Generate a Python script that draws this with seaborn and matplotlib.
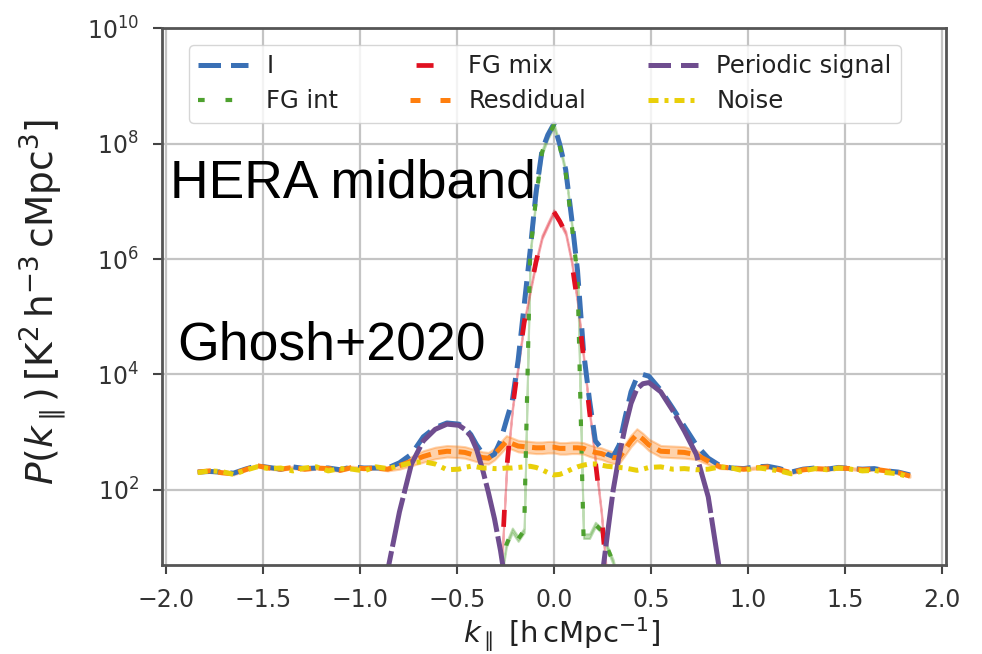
import numpy as np
import matplotlib
matplotlib.use("Agg")
import matplotlib.pyplot as plt
import seaborn as sns

# k_parallel grid [h cMpc^-1]: coarse outer bins, finer bins around the foreground wedge
k_par = [-1.836, -1.775, -1.714, -1.652, -1.591, -1.530, -1.469, -1.408, -1.346, -1.285, -1.224,
         -1.163, -1.102, -1.040, -0.979, -0.918, -0.857, -0.796, -0.734, -0.673, -0.612, -0.551,
         -0.490, -0.459, -0.428, -0.398, -0.367, -0.337, -0.306, -0.275, -0.245, -0.214, -0.184,
         -0.153, -0.122, -0.092, -0.061, -0.031, 0.000, 0.031, 0.061, 0.092, 0.122, 0.153, 0.184,
         0.214, 0.245, 0.275, 0.306, 0.337, 0.367, 0.398, 0.428, 0.459, 0.490,
         0.551, 0.612, 0.673, 0.734, 0.796, 0.857, 0.918, 0.979, 1.040, 1.102, 1.163, 1.224,
         1.285, 1.346, 1.408, 1.469, 1.530, 1.591, 1.652, 1.714, 1.775, 1.836]

# log10 P(k) [K^2 h^-3 cMpc^3] for each component
log_total = [2.31, 2.32, 2.31, 2.29, 2.36, 2.42, 2.39, 2.36, 2.40, 2.37, 2.38,
             2.38, 2.35, 2.40, 2.38, 2.38, 2.38, 2.47, 2.62, 2.92, 3.08, 3.16,
             3.14, 3.08, 2.96, 2.78, 2.63, 2.56, 2.62, 2.85, 3.20, 3.55, 4.25,
             5.20, 6.15, 7.15, 7.88, 8.15, 8.34, 7.98, 7.55, 6.70, 5.80, 4.40, 3.55,
             2.85, 2.72, 2.62, 2.58, 2.78, 3.25, 3.70, 3.95, 4.00, 3.97,
             3.73, 3.42, 3.10, 2.78, 2.55, 2.42, 2.38, 2.37, 2.40, 2.41, 2.37, 2.31,
             2.36, 2.38, 2.36, 2.39, 2.37, 2.36, 2.37, 2.33, 2.31, 2.26]

log_fg_int = [-2.0, -2.0, -2.0, -2.0, -2.0, -2.0, -2.0, -2.0, -2.0, -2.0, -2.0,
              -2.0, -2.0, -2.0, -2.0, -2.0, -2.0, -2.0, -2.0, -2.0, -2.0, -2.0,
              -2.0, -2.0, -2.0, -2.0, -2.0, -2.0, -1.0, 0.40, 1.05, 1.30, 1.15,
              1.30, 6.10, 7.05, 7.85, 8.12, 8.32, 7.95, 7.50, 6.60, 5.70, 1.20, 1.20,
              1.40, 1.30, 1.00, 0.75, 0.30, -1.0, -2.0, -2.0, -2.0, -2.0,
              -2.0, -2.0, -2.0, -2.0, -2.0, -2.0, -2.0, -2.0, -2.0, -2.0, -2.0, -2.0,
              -2.0, -2.0, -2.0, -2.0, -2.0, -2.0, -2.0, -2.0, -2.0, -2.0]

log_fg_mix = [-2.0, -2.0, -2.0, -2.0, -2.0, -2.0, -2.0, -2.0, -2.0, -2.0, -2.0,
              -2.0, -2.0, -2.0, -2.0, -2.0, -2.0, -2.0, -2.0, -2.0, -2.0, -2.0,
              -2.0, -2.0, -2.0, -2.0, -2.0, -2.0, -1.0, 0.30, 2.30, 3.40, 4.15,
              4.90, 5.45, 5.95, 6.38, 6.60, 6.82, 6.65, 6.45, 5.95, 5.25, 4.30, 3.35,
              2.50, 1.60, 0.40, -1.0, -2.0, -2.0, -2.0, -2.0, -2.0, -2.0,
              -2.0, -2.0, -2.0, -2.0, -2.0, -2.0, -2.0, -2.0, -2.0, -2.0, -2.0, -2.0,
              -2.0, -2.0, -2.0, -2.0, -2.0, -2.0, -2.0, -2.0, -2.0, -2.0]

log_resid = [2.31, 2.33, 2.30, 2.28, 2.35, 2.42, 2.38, 2.36, 2.39, 2.36, 2.38,
             2.37, 2.34, 2.39, 2.37, 2.38, 2.36, 2.42, 2.50, 2.58, 2.64, 2.67,
             2.66, 2.65, 2.62, 2.59, 2.56, 2.55, 2.62, 2.73, 2.84, 2.80, 2.76,
             2.75, 2.74, 2.73, 2.73, 2.74, 2.74, 2.72, 2.72, 2.73, 2.73, 2.72, 2.68,
             2.65, 2.63, 2.59, 2.56, 2.56, 2.70, 2.85, 2.96, 2.88, 2.78,
             2.67, 2.66, 2.65, 2.61, 2.50, 2.40, 2.38, 2.36, 2.38, 2.40, 2.35, 2.30,
             2.35, 2.37, 2.36, 2.38, 2.37, 2.35, 2.36, 2.33, 2.30, 2.24]

log_signal = [-2.0, -2.0, -2.0, -2.0, -2.0, -2.0, -2.0, -2.0, -2.0, -2.0, -2.0,
              -2.0, -2.0, -2.0, -2.0, -2.0, 0.60, 1.62, 2.45, 2.85, 3.05, 3.14,
              3.12, 3.05, 2.93, 2.70, 2.35, 1.95, 1.50, 0.95, 0.30, -2.0, -2.0,
              -2.0, -2.0, -2.0, -2.0, -2.0, -2.0, -2.0, -2.0, -2.0, -2.0, -2.0, -2.0,
              -2.0, 0.40, 1.20, 2.00, 2.60, 3.08, 3.50, 3.75, 3.84, 3.86,
              3.70, 3.38, 3.02, 2.62, 1.88, 0.55, -2.0, -2.0, -2.0, -2.0, -2.0, -2.0,
              -2.0, -2.0, -2.0, -2.0, -2.0, -2.0, -2.0, -2.0, -2.0, -2.0]

log_noise = [2.30, 2.33, 2.32, 2.27, 2.34, 2.40, 2.37, 2.38, 2.33, 2.38, 2.40,
             2.33, 2.37, 2.36, 2.33, 2.40, 2.37, 2.42, 2.47, 2.49, 2.45, 2.35,
             2.36, 2.39, 2.41, 2.40, 2.38, 2.38, 2.37, 2.37, 2.38, 2.38, 2.39,
             2.40, 2.41, 2.39, 2.35, 2.30, 2.26, 2.27, 2.31, 2.36, 2.40, 2.43, 2.45,
             2.45, 2.43, 2.41, 2.40, 2.39, 2.38, 2.36, 2.34, 2.36, 2.39,
             2.40, 2.36, 2.37, 2.35, 2.36, 2.40, 2.38, 2.33, 2.39, 2.36, 2.33, 2.28,
             2.33, 2.37, 2.35, 2.38, 2.36, 2.33, 2.34, 2.30, 2.28, 2.22]

# 1-sigma spread in dex of the recovered components
resid_err = [0.02, 0.02, 0.02, 0.02, 0.02, 0.02, 0.02, 0.02, 0.02, 0.02, 0.02,
             0.02, 0.02, 0.02, 0.02, 0.02, 0.03, 0.06, 0.08, 0.10, 0.10, 0.10,
             0.10, 0.10, 0.10, 0.10, 0.10, 0.10, 0.10, 0.10, 0.10, 0.10, 0.10,
             0.10, 0.10, 0.10, 0.10, 0.10, 0.10, 0.10, 0.10, 0.10, 0.10, 0.10, 0.10,
             0.10, 0.10, 0.10, 0.10, 0.10, 0.10, 0.10, 0.10, 0.10, 0.10,
             0.10, 0.10, 0.10, 0.08, 0.06, 0.03, 0.02, 0.02, 0.02, 0.02, 0.02, 0.02,
             0.02, 0.02, 0.02, 0.02, 0.02, 0.02, 0.02, 0.02, 0.02, 0.02]
fg_int_err = 0.04
fg_mix_err = 0.03

labels = ["I", "FG int", "FG mix", "Resdidual", "Periodic signal", "Noise"]

sns.set_style("whitegrid", {
    "axes.edgecolor": "#555555",
    "grid.color": "#c4c4c4",
    "xtick.bottom": True,
    "ytick.left": True,
    "xtick.color": "#444444",
    "ytick.color": "#444444",
})
plt.rcParams["font.family"] = ["DejaVu Sans"]
plt.rcParams["mathtext.fontset"] = "dejavusans"

fig = plt.figure(figsize=(9.82, 6.54), dpi=100)
ax = fig.add_axes([0.165, 0.136, 0.798, 0.821])
ax.set_yscale("log")

k = np.array(k_par)
series = [
    # label, log10 P, spread, colour, width, plot dashes, legend dashes
    (labels[0], log_total, None, "#3a70b5", 3.6, (0, (4.5, 2.0)), (0, (4.5, 2.0))),
    (labels[1], log_fg_int, fg_int_err, "#4ea12f", 3.0, (0, (1.6, 5.0)), (0, (1.6, 5.0))),
    (labels[2], log_fg_mix, fg_mix_err, "#e01020", 3.4, (0, (3.6, 10.0)), (10.2, (3.6, 10.0))),
    (labels[3], log_resid, resid_err, "#ff7f0e", 3.6, (0, (2.6, 1.5)), (4.0, (2.0, 4.0))),
    (labels[4], log_signal, None, "#6f4d8f", 3.6, (0, (10.0, 0.9)), (0, (4.5, 2.0))),
    (labels[5], log_noise, None, "#e9cf0a", 3.6, (0, (2.0, 1.2, 0.8, 1.2)), (0, (2.0, 1.2, 0.8, 1.2))),
]

handles = []
for label, logp, err, color, lw, ls, _ in series:
    logp = np.array(logp)
    if err is not None:
        err = np.asarray(err)
        ax.fill_between(k, 10 ** (logp - err), 10 ** (logp + err), color=color,
                        alpha=0.35, linewidth=1.5, zorder=1.5)
    sns.lineplot(x=k, y=10 ** logp, ax=ax, color=color, linewidth=lw, linestyle=ls,
                 label=label, errorbar=None, legend=False, zorder=2)
    handles.append(ax.get_lines()[-1])

ax.set_xlim(-2.02, 2.02)
ax.set_ylim(5, 1e10)
ax.set_xticks([-2.0, -1.5, -1.0, -0.5, 0.0, 0.5, 1.0, 1.5, 2.0])
ax.set_yticks([1e2, 1e4, 1e6, 1e8, 1e10])
ax.yaxis.set_minor_locator(matplotlib.ticker.NullLocator())
ax.grid(True, which="major", color="#c4c4c4", linewidth=1.6)
for sp in ax.spines.values():
    sp.set_visible(True)
    sp.set_color("#555555")
    sp.set_linewidth(2.0)
ax.tick_params(axis="both", labelsize=17, length=6.5, width=1.5, labelcolor="#333333")
ax.tick_params(axis="x", pad=10)
ax.tick_params(axis="y", pad=10)

ax.set_xlabel(r"$k_\parallel\ [\mathrm{h\,cMpc}^{-1}]$", fontsize=21, color="#222222")
ax.set_ylabel(r"$P(k_\parallel)\,[\mathrm{K}^2\,\mathrm{h}^{-3}\,\mathrm{cMpc}^3]$",
              fontsize=27, color="#222222")
ax.xaxis.set_label_coords(0.51, -0.094)
ax.yaxis.set_label_coords(-0.12, 0.49)

leg = ax.legend(handles=handles, labels=labels, ncol=3, loc="upper left",
                bbox_to_anchor=(0.034, 0.969), borderaxespad=0.0,
                fontsize=17.5, handlelength=2.05, columnspacing=2.55, handletextpad=0.75,
                labelspacing=0.45,
                framealpha=0.8, edgecolor="#cccccc", fancybox=True)
for line, (_, _, _, _, _, _, legls) in zip(leg.get_lines(), series):
    line.set_linestyle(legls)
for t in leg.get_texts():
    t.set_color("#222222")

fig.text(170 / 982, 1 - 197 / 654, "HERA midband", fontsize=38.5,
         family="Liberation Sans", color="black", va="baseline")
fig.text(177 / 982, 1 - 360 / 654, "Ghosh+2020", fontsize=38.5,
         family="Liberation Sans", color="black", va="baseline")

fig.savefig("out.png", dpi=100)
